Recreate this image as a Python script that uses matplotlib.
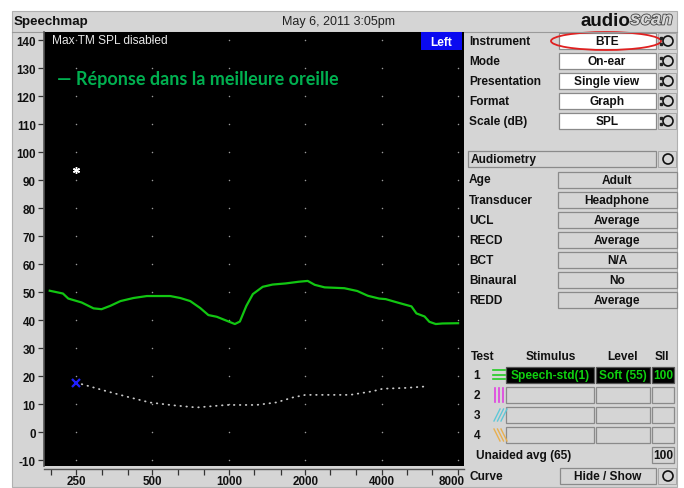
import matplotlib
matplotlib.use("Agg")
import matplotlib.pyplot as plt
from matplotlib.patches import Rectangle, Ellipse, Circle
from matplotlib.font_manager import FontProperties
from matplotlib.transforms import ScaledTranslation
import matplotlib.patheffects as pe
import numpy as np

# ---------------- data ----------------
freq_ticks = [250, 500, 1000, 2000, 4000, 8000]
third_octaves = [200, 250, 315, 400, 500, 630, 800, 1000, 1250, 1600, 2000,
                 2500, 3150, 4000, 5000, 6300, 8000]
db_ticks = list(range(-10, 141, 10))

# aided speech response (dB SPL)
aided_freq = [197, 222, 233, 263, 293, 315, 341, 374, 421, 475, 587, 643, 704,
              771, 830, 895, 978, 1055, 1104, 1171, 1242, 1358, 1484, 1671,
              1880, 2042, 2177, 2380, 2845, 3200, 3521, 3900, 4140, 4520, 4860,
              5230, 5470, 5890, 6150, 6520, 6920, 7980]
aided_db = [50.5, 49.5, 47.7, 46.3, 44.2, 43.9, 45.1, 46.8, 47.9, 48.6, 48.6,
            47.9, 46.8, 44.3, 41.8, 41.2, 39.8, 38.6, 39.5, 45.1, 49.3, 51.9,
            52.7, 53.1, 53.7, 54.0, 52.6, 51.7, 51.4, 50.4, 48.7, 47.7, 47.5,
            46.5, 45.7, 44.9, 42.4, 41.3, 39.4, 38.6, 38.8, 38.9]

# hearing threshold converted to SPL
thresh_freq = [250, 284, 330, 395, 487, 600, 746, 978, 1283, 1536, 1788, 1999,
               2998, 3685, 4030, 4990, 5920]
thresh_db = [17.7, 16.3, 14.6, 12.7, 10.6, 9.6, 8.8, 9.7, 9.7, 10.6, 12.4,
             13.3, 13.3, 14.6, 15.5, 15.8, 16.3]

# single audiometric points at 250 Hz
ucl_point = (250, 93.5)
thr_point = (250, 17.7)

# settings panel
settings = [("Instrument", "BTE"), ("Mode", "On-ear"),
            ("Presentation", "Single view"), ("Format", "Graph"),
            ("Scale (dB)", "SPL")]
audiometry = [("Age", "Adult"), ("Transducer", "Headphone"), ("UCL", "Average"),
              ("RECD", "Average"), ("BCT", "N/A"), ("Binaural", "No"),
              ("REDD", "Average")]
tests = [("1", "Speech-std(1)", "Soft (55)", "100"),
         ("2", "", "", ""), ("3", "", "", ""), ("4", "", "", "")]
unaided_label = "Unaided avg (65)"
unaided_sii = "100"

# ---------------- figure ----------------
W, H = 684, 489
fig = plt.figure(figsize=(W / 100, H / 100), dpi=100)
fig.patch.set_facecolor("white")

BG = "#d5d5d5"
LBL = dict(family=["Liberation Sans", "DejaVu Sans"], fontweight="bold",
           fontsize=8.6, color="#111111")

ui = fig.add_axes([0, 0, 1, 1], zorder=0)
ui.set_xlim(0, W)
ui.set_ylim(H, 0)
ui.axis("off")

ui.add_patch(Rectangle((12, 12), 665, 476, facecolor=BG, edgecolor="#b0b0b0", lw=0.8))
ui.plot([12, 677], [32.5, 32.5], color="#9a9a9a", lw=0.8)

# title bar
ui.text(14, 22, "Speechmap", ha="left", va="center",
        family=["Liberation Sans", "DejaVu Sans"], fontweight="bold",
        fontsize=9.6, color="#111111")
ui.text(339, 22.5, "May 6, 2011 3:05pm", ha="center", va="center",
        family=["Liberation Sans Narrow", "Liberation Sans", "DejaVu Sans"],
        fontsize=9, color="#222222")
ui.text(630, 21, "audio", ha="right", va="center",
        family=["Liberation Sans", "DejaVu Sans"], fontweight="bold",
        fontsize=13.5, color="#111111")
ui.text(630, 21, "scan", ha="left", va="center",
        family=["Liberation Sans", "DejaVu Sans"], fontweight="bold",
        fontstyle="italic", fontsize=13.5, color="#d8d8d8",
        path_effects=[pe.withStroke(linewidth=1.2, foreground="#444444")])


def box(x0, x1, yc, h=16, fc="white", ec="#8a8a8a"):
    ui.add_patch(Rectangle((x0, yc - h / 2), x1 - x0, h, facecolor=fc,
                           edgecolor=ec, lw=0.9))


def knob(xc, yc, dots=True):
    ui.add_patch(Rectangle((xc - 9, yc - 8), 18, 16, facecolor=BG,
                           edgecolor="#a0a0a0", lw=0.6))
    ui.add_patch(Circle((xc + 1, yc), 5, facecolor="none", edgecolor="#111111", lw=1.2))
    if dots:
        ui.plot([xc - 6, xc - 6], [yc - 3, yc + 3], ls="none", marker="s",
                ms=1.5, color="#222222")


# settings rows
for i, (lab, val) in enumerate(settings):
    y = 42 + 20 * i
    ui.text(469, y, lab, ha="left", va="center", **LBL)
    box(559, 656, y)
    ui.text(607, y, val, ha="center", va="center", **LBL)
    knob(667, y)
ui.add_patch(Ellipse((606, 42), 110, 18, facecolor="none", edgecolor="#e02020", lw=1.3))

# audiometry section
box(468, 656, 160, fc=BG)
ui.text(471, 160, "Audiometry", ha="left", va="center", **LBL)
knob(667, 160, dots=False)
for i, (lab, val) in enumerate(audiometry):
    y = 180.5 + 20.1 * i
    ui.text(469, y, lab, ha="left", va="center", **LBL)
    box(558, 677, y, fc=BG)
    ui.text(617, y, val, ha="center", va="center", **LBL)

# test table
for txt, x in [("Test", 483), ("Stimulus", 551), ("Level", 622), ("SII", 662)]:
    ui.text(x, 357, txt, ha="center", va="center", **LBL)
cols = [(506, 594), (596, 650), (652, 674)]
for i, row in enumerate(tests):
    y = 376 + 20 * i
    ui.text(477, y, row[0], ha="center", va="center", **LBL)
    filled = any(row[1:])
    for (x0, x1), txt in zip(cols, row[1:]):
        if filled:
            box(x0, x1, y, fc="black", ec="#555555")
            ui.text((x0 + x1) / 2, y, txt, ha="center", va="center",
                    family=["Liberation Sans", "DejaVu Sans"], fontweight="bold",
                    fontsize=8.6, color="#10d010")
        else:
            box(x0, x1, y, fc=BG)
# curve key icons
for k in range(3):
    ui.plot([493, 505], [371 + 4.5 * k, 371 + 4.5 * k], color="#22cc22", lw=1.2)
for k in range(3):
    ui.plot([495 + 4 * k, 495 + 4 * k], [389, 403], color="#e040e0", lw=1.2)
for k in range(3):
    ui.plot([494 + 3.5 * k, 500 + 3.5 * k], [422, 410], color="#60c8d8", lw=1.0)
for k in range(3):
    ui.plot([494 + 3.5 * k, 500 + 3.5 * k], [430, 442], color="#e8b050", lw=1.0)

ui.text(476, 456, unaided_label, ha="left", va="center", **LBL)
box(652, 674, 456, fc=BG)
ui.text(663, 456, unaided_sii, ha="center", va="center", **LBL)

ui.text(470, 477, "Curve", ha="left", va="center", **LBL)
box(560, 656, 477, fc=BG)
ui.text(608, 477, "Hide / Show", ha="center", va="center", **LBL)
knob(667, 477, dots=False)

# ---------------- speechmap graph ----------------
ax = fig.add_axes([44 / W, 1 - 467 / H, 420 / W, 434 / H], zorder=1)
ax.set_facecolor("black")
ax.set_xscale("log", base=2)
ax.set_xlim(187, 8420)
ax.set_ylim(-12.1, 142.9)

for side in ["top", "right"]:
    ax.spines[side].set_visible(False)
ax.spines["left"].set_color("#555555")
ax.spines["left"].set_linewidth(1.2)
ax.spines["bottom"].set_color("#555555")
ax.spines["bottom"].set_linewidth(1.0)
ax.spines["bottom"].set_position(("outward", 2))

# grid shown as dots at octave / 10 dB intersections
gx, gy = np.meshgrid(freq_ticks, db_ticks)
ax.scatter(gx.ravel(), gy.ravel(), s=1.2, color="#9a9a9a", linewidths=0, zorder=1)

ax.plot(aided_freq, aided_db, color="#12c612", lw=1.6, zorder=3,
        solid_joinstyle="round")
ax.plot(thresh_freq, thresh_db, color="#c8c8c8", lw=1.3,
        ls=(0, (0.3, 3.0)), dash_capstyle="round", zorder=3)
ax.plot(*thr_point, marker="x", color="#2020ff", ms=6, mew=1.6, zorder=4)
ax.plot(*ucl_point, marker=(6, 2, 0), color="white", ms=5, mew=1.0, zorder=4)

ax.set_xticks([f for f in third_octaves if f not in freq_ticks], minor=True)
ax.xaxis.set_minor_formatter(matplotlib.ticker.NullFormatter())
ax.yaxis.set_minor_locator(matplotlib.ticker.NullLocator())
ax.tick_params(axis="y", which="both", direction="out", length=4, width=0.9,
               color="#333333", pad=2)
ax.tick_params(axis="x", which="both", direction="out", length=4, width=0.9,
               color="#333333", pad=0.5)

tick_fp = FontProperties(family=["Liberation Sans", "DejaVu Sans"],
                         weight="bold", size=8.4)
ax.set_yticks(db_ticks)
ax.set_yticklabels([str(v) for v in db_ticks], fontproperties=tick_fp,
                   color="#111111")
ax.set_xticks(freq_ticks)
xlabels = ax.set_xticklabels([str(v) for v in freq_ticks], fontproperties=tick_fp,
                             color="#111111")
# keep the last frequency label inside the graph frame
xlabels[-1].set_transform(xlabels[-1].get_transform()
                          + ScaledTranslation(-0.07, 0, fig.dpi_scale_trans))

# overlay texts on the graph
ov = fig.add_axes([0, 0, 1, 1], zorder=3)
ov.set_xlim(0, W)
ov.set_ylim(H, 0)
ov.axis("off")
ov.patch.set_alpha(0)
ov.text(52, 41, "Max TM SPL disabled", ha="left", va="center",
        family=["Liberation Sans", "DejaVu Sans"], fontsize=8.6, color="#e8e8e8")
ov.add_patch(Rectangle((421, 33), 41, 18, facecolor="#0a0af0", edgecolor="none"))
ov.text(441.5, 42.5, "Left", ha="center", va="center",
        family=["Liberation Sans", "DejaVu Sans"], fontweight="bold",
        fontsize=8.6, color="white")
ov.text(57, 80, "— Réponse dans la meilleure oreille", ha="left", va="center",
        family=["Lato", "DejaVu Sans"], fontweight="bold", fontsize=13,
        color="#00b050")

fig.savefig("out.png", dpi=100, facecolor=fig.get_facecolor())
